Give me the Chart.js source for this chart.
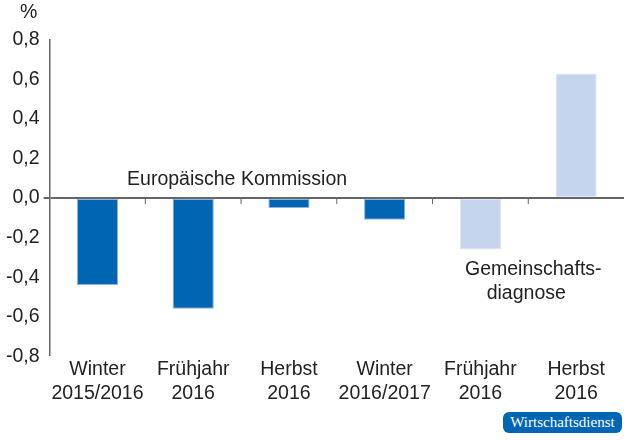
<!DOCTYPE html>
<html>
<head>
<meta charset="utf-8">
<script src="https://cdn.jsdelivr.net/npm/chart.js@4"></script>
<style>
  body { margin: 0; background: #fff; }
  #wrap { position: relative; width: 630px; height: 440px; }
  #logo {
    position: absolute; left: 503px; top: 412px; width: 119px; height: 21px;
    background: #0066b3; border-radius: 6px; color: #fff;
    font: 15px "Liberation Serif", "DejaVu Serif", serif; line-height: 21px; text-align: center;
  }
</style>
</head>
<body>
<div id="wrap">
  <canvas id="chart" width="630" height="440"></canvas>
  <div id="logo">Wirtschaftsdienst</div>
</div>
<script>
const categories = [
  ["Winter", "2015/2016"],
  ["Frühjahr", "2016"],
  ["Herbst", "2016"],
  ["Winter", "2016/2017"],
  ["Frühjahr", "2016"],
  ["Herbst", "2016"],
];
const values = [-0.44, -0.56, -0.05, -0.11, -0.26, 0.63];
const sources = ["EK", "EK", "EK", "EK", "GD", "GD"];
const yTicks = [-0.8, -0.6, -0.4, -0.2, 0, 0.2, 0.4, 0.6, 0.8];

const darkBlue = "#0066b3";
const lightBlue = "#c6d5ee";
const font = { family: "'Liberation Sans', Arial, sans-serif", size: 19.5 };

// small tick marks under the zero line + the two text labels
const extras = {
  id: "extras",
  afterDatasetsDraw(chart) {
    const { ctx, scales: { x, y } } = chart;
    const y0 = y.getPixelForValue(0);
    ctx.save();
    ctx.strokeStyle = "#666";
    ctx.lineWidth = 1;
    for (let i = 0; i < categories.length - 1; i++) {
      const xb = (x.getPixelForValue(i) + x.getPixelForValue(i + 1)) / 2;
      ctx.beginPath();
      ctx.moveTo(xb, y0);
      ctx.lineTo(xb, y0 + 6);
      ctx.stroke();
    }
    ctx.fillStyle = "#222";
    ctx.font = "19.5px " + font.family;
    ctx.textAlign = "center";
    ctx.textBaseline = "middle";
    ctx.fillText("Europäische Kommission", (x.getPixelForValue(1) + x.getPixelForValue(2)) / 2 - 4, y.getPixelForValue(0.095));
    const gx = (x.getPixelForValue(4) + x.getPixelForValue(5)) / 2;
    ctx.fillText("Gemeinschafts-", gx + 5, y.getPixelForValue(-0.36));
    ctx.fillText("diagnose", gx - 2, y.getPixelForValue(-0.485));
    // % label above axis
    ctx.textAlign = "left";
    ctx.fillText("%", 20, 13);
    ctx.restore();
  }
};

new Chart(document.getElementById("chart"), {
  type: "bar",
  data: {
    labels: categories,
    datasets: [{
      data: values,
      backgroundColor: sources.map(s => s === "EK" ? darkBlue : lightBlue),
      borderColor: sources.map(s => s === "EK" ? "#8fb4dc" : "#dfe8f6"),
      borderWidth: 1,
      borderSkipped: false,
      barPercentage: 0.43,
      categoryPercentage: 1,
    }],
  },
  options: {
    responsive: false,
    animation: false,
    layout: { padding: { left: 2, right: 6, top: 40, bottom: 41 } },
    plugins: { legend: { display: false }, tooltip: { enabled: false } },
    scales: {
      x: {
        grid: { display: false },
        border: { display: false },
        ticks: { color: "#222", font: font, padding: -6, maxRotation: 0, autoSkip: false },
      },
      y: {
        min: -0.8,
        max: 0.8,
        afterBuildTicks: axis => { axis.ticks = yTicks.map(v => ({ value: v })); },
        grid: {
          color: c => c.tick && c.tick.value === 0 ? "#666" : "transparent",
          lineWidth: c => c.tick && c.tick.value === 0 ? 2 : 0,
          tickColor: "#666",
          tickLength: 6,
          drawTicks: true,
        },
        border: { display: true, color: "#666", width: 1.5 },
        ticks: {
          color: "#222",
          font: font,
          padding: 4,
          callback: v => v.toFixed(1).replace(".", ","),
        },
      },
    },
  },
  plugins: [extras],
});
</script>
</body>
</html>
